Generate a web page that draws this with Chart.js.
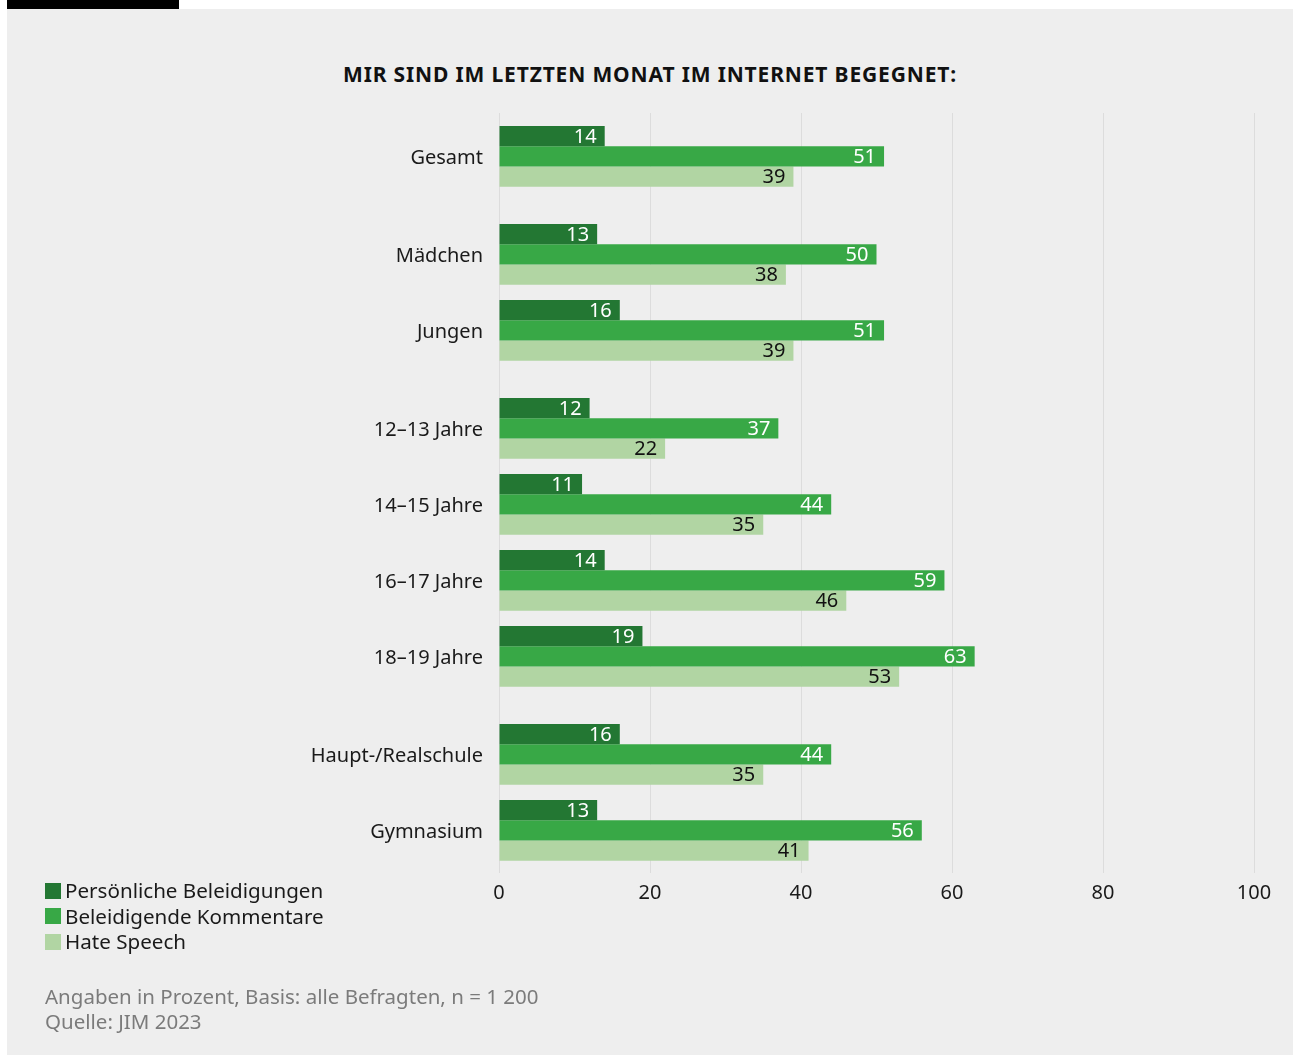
<!DOCTYPE html>
<html><head><meta charset="utf-8">
<script src="https://cdn.jsdelivr.net/npm/chart.js@4"></script>
<style>
html,body{margin:0;padding:0;background:#fff;width:1293px;height:1055px;overflow:hidden;font-family:"Noto Sans",sans-serif;}
#topbar{position:absolute;left:7px;top:0;width:172px;height:9px;background:#000;}
#panel{position:absolute;left:7px;top:9px;width:1286px;height:1046px;background:#eeeeee;}
#title{position:absolute;left:7px;width:1286px;top:60px;text-align:center;font-weight:700;font-size:21px;letter-spacing:0.85px;line-height:28px;color:#111;}
#wrap{position:absolute;left:0;top:0;width:1293px;height:1055px;}
#legend{position:absolute;left:45px;top:878px;font-size:20.6px;line-height:25.5px;color:#1a1a1a;}
#legend div{display:flex;align-items:center;white-space:nowrap;}
#legend span.sw{display:inline-block;width:16px;height:16px;margin-right:4px;}
#foot{position:absolute;left:45px;top:984px;font-size:20.5px;line-height:25px;color:#7b7b7b;}
</style>
</head><body>
<div id="topbar"></div>
<div id="panel"></div>
<div id="title">MIR SIND IM LETZTEN MONAT IM INTERNET BEGEGNET:</div>
<div id="wrap"><canvas id="c" width="1293" height="1055"></canvas></div>
<div id="legend"></div>
<div id="foot">Angaben in Prozent, Basis: alle Befragten, n = 1 200<br>Quelle: JIM 2023</div>
<script>
const categories = ['Gesamt','Mädchen','Jungen','12–13 Jahre','14–15 Jahre','16–17 Jahre','18–19 Jahre','Haupt-/Realschule','Gymnasium'];
const sections = [0,1,1,2,2,2,2,3,3];
const seriesNames = ['Persönliche Beleidigungen','Beleidigende Kommentare','Hate Speech'];
const persoenlich = [14,13,16,12,11,14,19,16,13];
const kommentare = [51,50,51,37,44,59,63,44,56];
const hateSpeech = [39,38,39,22,35,46,53,35,41];
const xTicks = [0,20,40,60,80,100];

const colors = ['#237733','#38a846','#b1d5a3'];
const labelColors = ['#ffffff','#ffffff','#111111'];
const GAP = 0.29;
const positions = categories.map((c,i)=> i + sections[i]*GAP);
const seriesValues = [persoenlich, kommentare, hateSpeech];

const FONT = '"Noto Sans", sans-serif';
Chart.defaults.font.family = FONT;

const valueLabels = {
  id:'valueLabels',
  afterDatasetsDraw(chart){
    const ctx = chart.ctx;
    ctx.save();
    ctx.font = '20px ' + FONT;
    ctx.textAlign = 'right';
    ctx.textBaseline = 'middle';
    chart.data.datasets.forEach((ds,di)=>{
      const meta = chart.getDatasetMeta(di);
      meta.data.forEach((el,i)=>{
        ctx.fillStyle = labelColors[di];
        ctx.fillText(String(seriesValues[di][i]), el.x - 8, el.y + 1);
      });
    });
    ctx.restore();
  }
};

new Chart(document.getElementById('c'), {
  type:'bar',
  data:{
    datasets: seriesValues.map((vals,di)=>({
      label: seriesNames[di],
      data: vals.map((v,i)=>({x:v, y:positions[i]})),
      backgroundColor: colors[di],
      borderWidth:0,
      categoryPercentage:0.8,
      barPercentage:1.0
    }))
  },
  options:{
    indexAxis:'y',
    responsive:false,
    animation:false,
    layout:{padding:{left:0,top:113,right:39,bottom:142}},
    plugins:{legend:{display:false},tooltip:{enabled:false},title:{display:false}},
    scales:{
      y:{
        type:'linear', reverse:true, min:-0.57, max:9.43, offset:false,
        afterBuildTicks:s=>{ s.ticks = positions.map(v=>({value:v})); },
        afterFit:s=>{ s.width = 499; },
        grid:{display:false, offset:false}, border:{display:false},
        ticks:{padding:8, labelOffset:2, color:'#1a1a1a', font:{size:20}, autoSkip:false,
          callback:(v,idx)=>categories[idx]}
      },
      x:{
        type:'linear', min:0, max:100,
        afterBuildTicks:s=>{ s.ticks = xTicks.map(v=>({value:v})); },
        afterFit:s=>{ s.height = 40; },
        grid:{color:'#dcdcdc', lineWidth:1, drawTicks:false},
        border:{display:false},
        ticks:{padding:8, color:'#1a1a1a', font:{size:20}}
      }
    }
  },
  plugins:[valueLabels]
});

const lg = document.getElementById('legend');
seriesNames.forEach((n,i)=>{
  const d = document.createElement('div');
  const s = document.createElement('span'); s.className='sw'; s.style.background=colors[i];
  d.appendChild(s); d.appendChild(document.createTextNode(n));
  lg.appendChild(d);
});
</script>
</body></html>
